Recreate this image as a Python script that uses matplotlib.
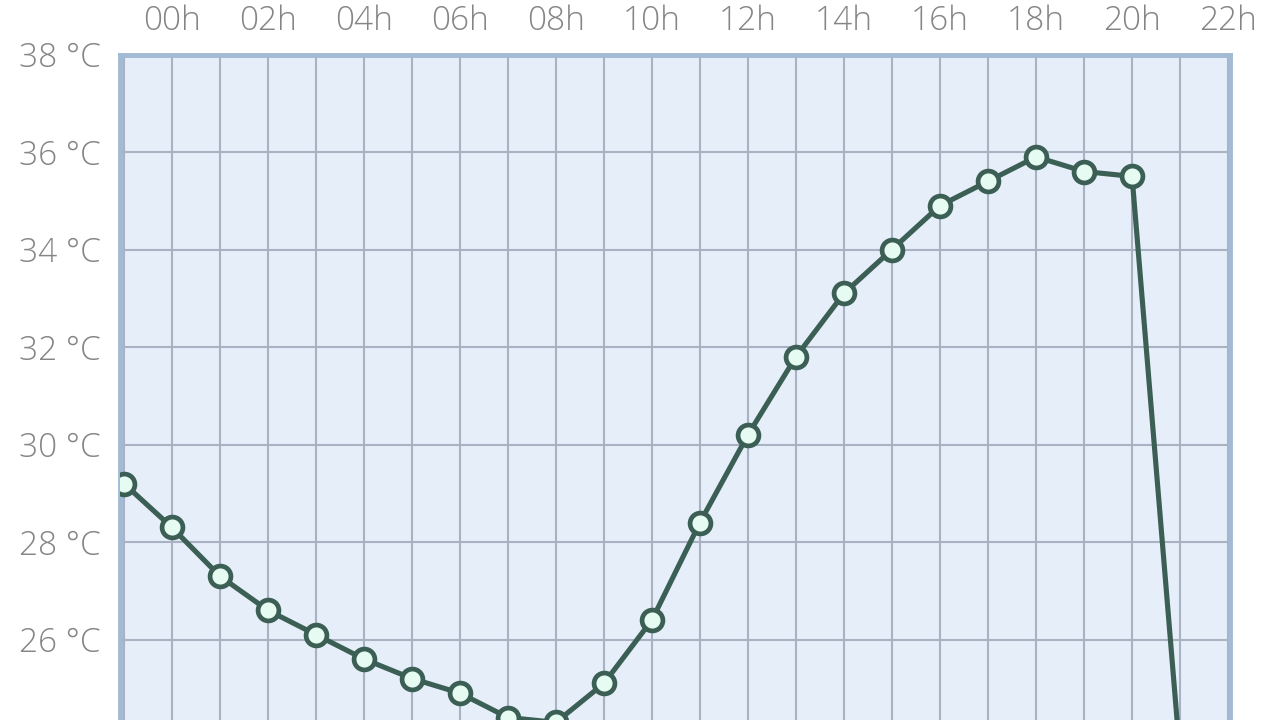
import numpy as np
import matplotlib
matplotlib.use('Agg')
import matplotlib.pyplot as plt

# hourly temperatures, starting at 23h of the previous day (hour -1)
hours = list(range(-1, 22))
temps = [29.2, 28.3, 27.3, 26.6, 26.1, 25.6, 25.2, 24.9, 24.4, 24.3,
         25.1, 26.4, 28.4, 30.2, 31.8, 33.1, 34.0, 34.9, 35.4, 35.9,
         35.6, 35.5, 23.6]
xtick_hours = list(range(0, 23, 2))
xtick_labels = ['%02dh' % h for h in xtick_hours]
ytick_vals = list(range(22, 39, 2))
ytick_labels = ['%d °C' % v for v in ytick_vals]

plt.rcParams['font.family'] = ['Open Sans', 'DejaVu Sans']
plt.rcParams['font.weight'] = 'light'

fig = plt.figure(figsize=(12.8, 7.2), dpi=100)
fig.patch.set_facecolor('white')
# plot area runs below the bottom of the picture, like the cropped reference
ax = fig.add_axes([120/1280, 1-834.5/720, 1110/1280, 780/720])
ax.set_facecolor('#e6eefa')

ax.set_xlim(-1.08, 22.04)
ax.set_ylim(22, 38)

ax.set_xticks(range(-1, 23), minor=True)
ax.set_xticks(xtick_hours)
ax.set_xticklabels(xtick_labels)
ax.set_yticks(ytick_vals)
ax.set_yticklabels(ytick_labels)

ax.xaxis.tick_top()
ax.tick_params(axis='both', which='both', length=0, labelsize=24, labelcolor='#858585')
ax.tick_params(axis='x', pad=12)
ax.tick_params(axis='y', pad=14)

ax.grid(True, which='both', axis='x', color='#a9b2c3', linewidth=1.5)
ax.grid(True, which='major', axis='y', color='#a9b2c3', linewidth=1.5)
ax.set_axisbelow(True)

for s in ax.spines.values():
    s.set_color('#a3bad4')
    s.set_linewidth(3.5)

ax.plot(hours, temps, color='#3c5f55', linewidth=3.7, marker='o', markersize=15,
        markerfacecolor='#e6fbf1', markeredgecolor='#3c5f55', markeredgewidth=3.4,
        solid_joinstyle='round', zorder=3)

fig.savefig('out.png', dpi=100)
